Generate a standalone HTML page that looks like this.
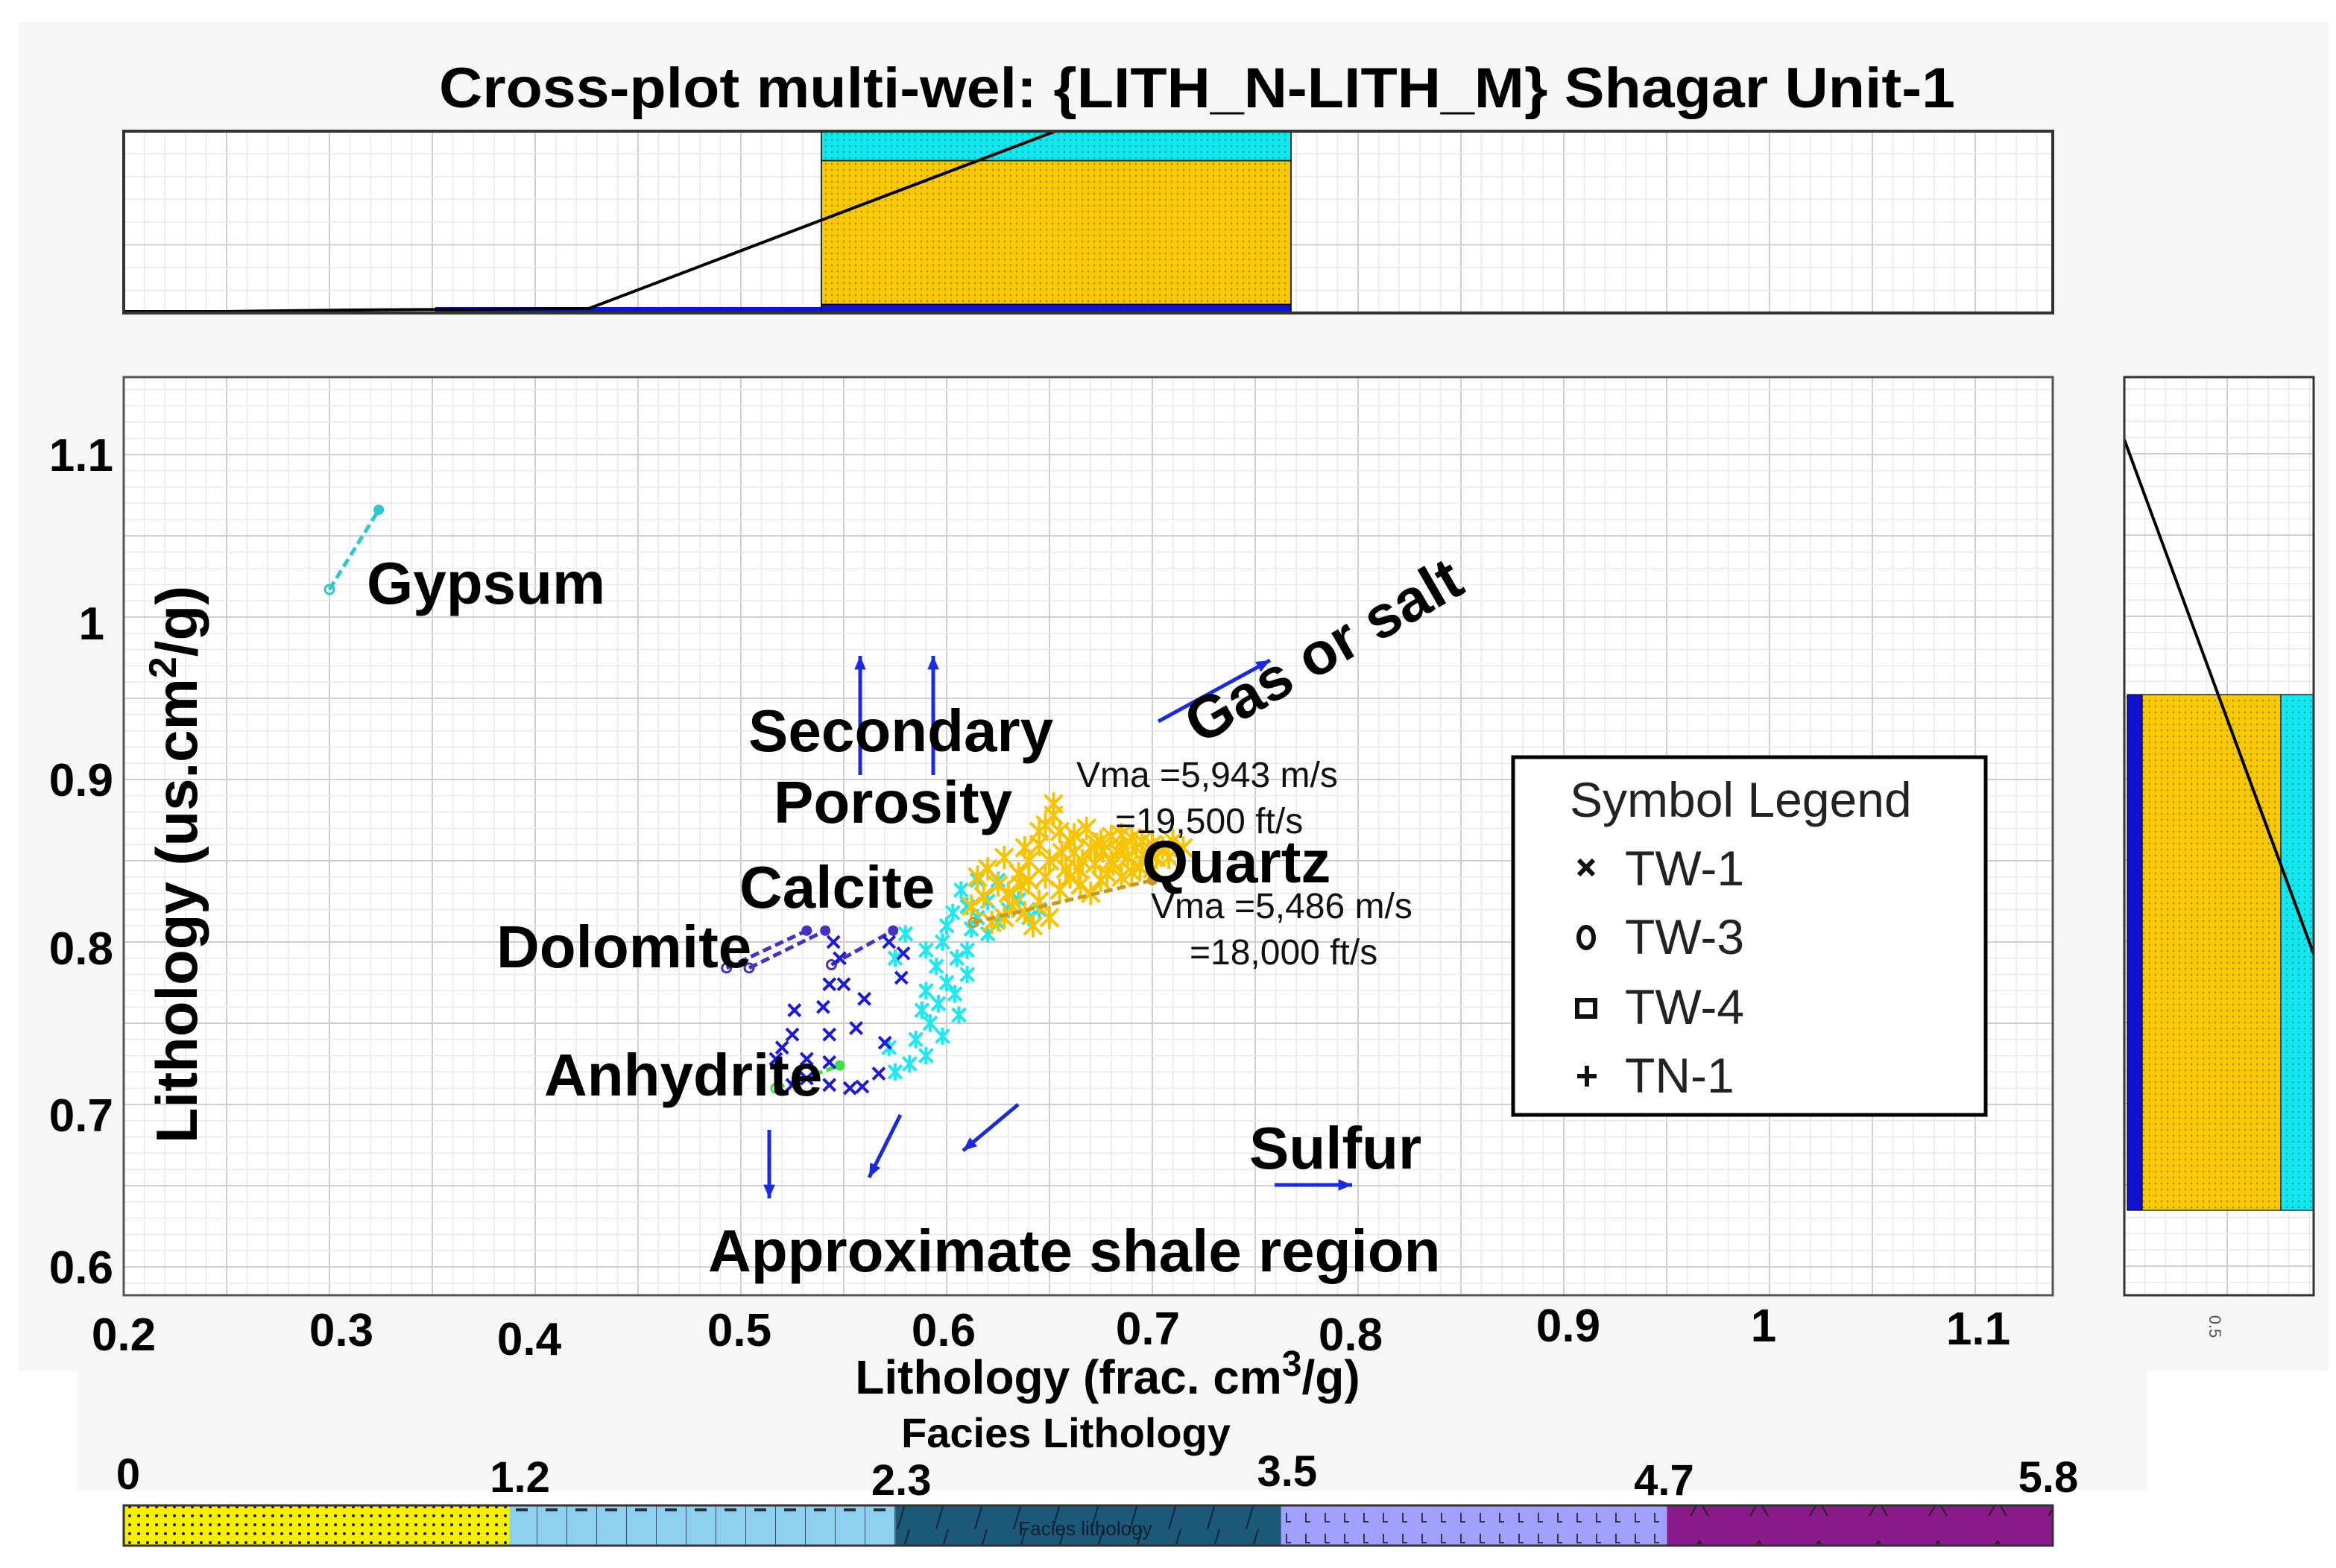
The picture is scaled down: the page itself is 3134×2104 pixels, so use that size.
<!DOCTYPE html>
<html><head><meta charset="utf-8"><title>Cross-plot multi-wel</title>
<style>html,body{margin:0;padding:0;background:#fff}svg{display:block}text{font-family:"Liberation Sans",Arial,sans-serif}</style></head>
<body>
<svg id="chart" width="3134" height="2104" viewBox="0 0 1567 1052" xmlns="http://www.w3.org/2000/svg">
<defs>
<pattern id="dots" width="4" height="4" patternUnits="userSpaceOnUse"><circle cx="2" cy="2" r="0.6" fill="#333" opacity="0.5"/></pattern>
<pattern id="ydots" width="6" height="6" patternUnits="userSpaceOnUse"><rect width="6" height="6" fill="#f5f000"/><circle cx="3" cy="3" r="1" fill="#222"/></pattern>
<pattern id="dash" width="20" height="27" patternUnits="userSpaceOnUse"><rect width="20" height="27" fill="#8fd0f0"/><line x1="0" y1="0" x2="0" y2="27" stroke="#234" stroke-width="0.8"/><line x1="6" y1="14" x2="14" y2="14" stroke="#234" stroke-width="2"/></pattern>
<pattern id="slash" width="26" height="27" patternUnits="userSpaceOnUse"><rect width="26" height="27" fill="#1c5878"/><line x1="4" y1="27" x2="12" y2="0" stroke="#0a2838" stroke-width="1"/></pattern>
<pattern id="ell" width="13" height="27" patternUnits="userSpaceOnUse"><rect width="13" height="27" fill="#a0a0ff"/><path d="M5 3v6h3M5 16v6h3" stroke="#334" fill="none" stroke-width="1"/></pattern>
<pattern id="caret" width="40" height="27" patternUnits="userSpaceOnUse"><rect width="40" height="27" fill="#8a1a8a"/><path d="M14 18l6-10 6 10" stroke="#222" fill="none" stroke-width="1"/></pattern>
</defs>
<rect width="1567" height="1052" fill="#fff"/>
<rect x="12" y="15" width="1550" height="905" fill="#f6f6f6"/>
<rect x="52" y="918" width="1388" height="82" fill="#f6f6f6"/>
<text x="803" y="72" font-size="38" font-weight="bold" text-anchor="middle" textLength="1017" lengthAdjust="spacingAndGlyphs">Cross-plot multi-wel: {LITH_N-LITH_M} Shagar Unit-1</text>

<g id="tophist"></g>
<g id="righthist"></g>
<g id="main"></g>

<g>
<rect x="1015" y="508" width="317" height="240" fill="#fff" stroke="#000" stroke-width="2.5"/>
<text x="1053" y="548" font-size="33" fill="#222">Symbol Legend</text>
<g><path d="M1059 577l10 10M1069 577l-10 10" stroke="#111" stroke-width="3"/><text x="1090" y="594" font-size="33" fill="#222">TW-1</text></g>
<g><ellipse cx="1064" cy="629" rx="5" ry="7" fill="none" stroke="#111" stroke-width="3"/><text x="1090" y="640" font-size="33" fill="#222">TW-3</text></g>
<g><rect x="1058" y="671" width="12" height="11" fill="none" stroke="#111" stroke-width="3"/><text x="1090" y="687" font-size="33" fill="#222">TW-4</text></g>
<g><path d="M1058 722h13M1064.5 715v14" stroke="#111" stroke-width="3"/><text x="1090" y="733" font-size="33" fill="#222">TN-1</text></g>
</g>

<g font-weight="bold" font-size="40" fill="#000">
<text x="246" y="405">Gypsum</text>
<text x="502" y="504">Secondary</text>
<text x="519" y="552">Porosity</text>
<text x="496" y="609">Calcite</text>
<text x="333" y="649">Dolomite</text>
<text x="365" y="735">Anhydrite</text>
<text x="766" y="592">Quartz</text>
<text x="838" y="784">Sulfur</text>
<text x="475" y="853">Approximate shale region</text>
<text x="0" y="0" transform="translate(805,500) rotate(-30)">Gas or salt</text>
</g>
<g font-size="24" fill="#111">
<text x="722" y="528">Vma =5,943 m/s</text>
<text x="748" y="559">=19,500 ft/s</text>
<text x="772" y="616">Vma =5,486 m/s</text>
<text x="798" y="647">=18,000 ft/s</text>
</g>

<g font-size="31" font-weight="bold" text-anchor="middle">
<text x="83" y="906">0.2</text><text x="229" y="903">0.3</text><text x="355" y="909">0.4</text><text x="496" y="903">0.5</text><text x="633" y="903">0.6</text><text x="770" y="902">0.7</text><text x="906" y="906">0.8</text><text x="1052" y="900">0.9</text><text x="1183" y="900">1</text><text x="1327" y="902">1.1</text>
</g>
<text x="743" y="935" font-size="32" font-weight="bold" text-anchor="middle">Lithology (frac. cm<tspan dy="-12" font-size="24">3</tspan><tspan dy="12">/g)</tspan></text>
<g font-size="31" font-weight="bold" text-anchor="end">
<text x="76" y="316">1.1</text><text x="70" y="429">1</text><text x="76" y="534">0.9</text><text x="76" y="647">0.8</text><text x="76" y="759">0.7</text><text x="76" y="861">0.6</text>
</g>
<text transform="translate(132,580) rotate(-90)" font-size="39" font-weight="bold" text-anchor="middle">Lithology (us.cm<tspan dy="-14" font-size="26">2</tspan><tspan dy="14">/g)</tspan></text>
<text transform="translate(1482,890) rotate(90)" font-size="11" fill="#555" text-anchor="middle">0.5</text>

<g id="facies">
<text x="715" y="971" font-size="28" font-weight="bold" text-anchor="middle">Facies Lithology</text>
</g>
</svg>
<script>
const NS="http://www.w3.org/2000/svg";
// ---- data ----
const xTicks=[0.2,0.3,0.4,0.5,0.6,0.7,0.8,0.9,1.0,1.1];
const tw1X=[0.526,0.543,0.55,0.543,0.525,0.517,0.532,0.543,0.570,0.525,0.543,0.532,0.553,0.559,0.567,0.556,0.579,0.578,0.545,0.572,0.520,0.540,0.560,0.548];
const tw1Y=[0.758,0.774,0.774,0.743,0.743,0.728,0.728,0.726,0.738,0.712,0.712,0.716,0.710,0.711,0.719,0.747,0.793,0.778,0.800,0.800,0.735,0.760,0.765,0.790];
const cyanX=[0.575,0.582,0.59,0.585,0.592,0.588,0.596,0.59,0.6,0.595,0.605,0.598,0.61,0.6,0.612,0.62,0.615,0.625,0.63,0.62,0.61,0.603,0.607,0.615,0.62,0.625,0.63,0.635,0.64,0.645,0.61,0.604,0.598,0.606,0.572,0.58,0.59,0.575];
const cyanY=[0.72,0.725,0.73,0.74,0.75,0.758,0.762,0.77,0.775,0.785,0.79,0.8,0.795,0.81,0.808,0.805,0.815,0.812,0.82,0.825,0.822,0.818,0.832,0.838,0.845,0.838,0.83,0.826,0.815,0.82,0.78,0.768,0.742,0.755,0.735,0.805,0.795,0.79];
const yelX=[0.612,0.618,0.625,0.63,0.635,0.64,0.645,0.648,0.652,0.655,0.66,0.662,0.666,0.67,0.675,0.68,0.685,0.69,0.695,0.70,0.705,0.672,0.68,0.688,0.695,0.66,0.665,0.67,0.675,0.655,0.645,0.638,0.65,0.642,0.658,0.65,0.632,0.628,0.622,0.64,0.685,0.69,0.70,0.678,0.645,0.638,0.628,0.62,0.615,0.652,0.668,0.683,0.71,0.715,0.708,0.698,0.692,0.676,0.664,0.656,0.648,0.636,0.662,0.673,0.686,0.702,0.694,0.681];
const yelY=[0.822,0.828,0.835,0.83,0.842,0.85,0.86,0.872,0.878,0.868,0.862,0.855,0.85,0.858,0.862,0.865,0.866,0.864,0.862,0.86,0.858,0.848,0.85,0.852,0.85,0.84,0.835,0.83,0.838,0.832,0.825,0.818,0.815,0.81,0.845,0.85,0.822,0.815,0.812,0.838,0.84,0.843,0.845,0.842,0.868,0.858,0.852,0.845,0.84,0.885,0.87,0.856,0.862,0.858,0.852,0.855,0.858,0.856,0.845,0.855,0.84,0.835,0.866,0.86,0.858,0.852,0.846,0.848];
// mineral line segments [x1,y1,x2,y2]
const gypsumSeg=[0.300,1.017,0.324,1.066];
const dolomiteSegA=[0.493,0.784,0.532,0.807];
const dolomiteSegB=[0.504,0.784,0.541,0.807];
const calciteSeg=[0.544,0.786,0.574,0.807];
const anhydriteSeg=[0.517,0.710,0.548,0.724];
const quartzSeg=[0.613,0.812,0.700,0.838];
const topHistCats=["blue","yellow","cyan"];
const topHistVals=[0.05,0.83,0.17];
const faciesTicks=["0","1.2","2.3","3.5","4.7","5.8"];
// ---- scales ----
const X0=83,X1=1377,Y0=253,Y1=869;
const sx=v=>83+(v-0.2)*1380;
const sy=v=>305+(1.1-v)*1090;
function el(tag,attrs,parent){const e=document.createElementNS(NS,tag);for(const k in attrs)e.setAttribute(k,attrs[k]);parent.appendChild(e);return e;}
function grid(g,x0,y0,x1,y1,dx,dy,ox,oy){
 for(let i=0;;i++){const x=ox+i*dx;if(x>x1)break;if(x<x0)continue;el('line',{x1:x,y1:y0,x2:x,y2:y1,stroke:i%5==0?'#cfcfcf':'#e8e8e8','stroke-width':i%5==0?1:0.7},g);}
 for(let i=0;;i++){const y=oy+i*dy;if(y>y1)break;if(y<y0)continue;el('line',{x1:x0,y1:y,x2:x1,y2:y,stroke:i%5==0?'#cfcfcf':'#e8e8e8','stroke-width':i%5==0?1:0.7},g);}
}
const main=document.getElementById('main');
el('rect',{x:X0,y:Y0,width:X1-X0,height:Y1-Y0,fill:'#fff'},main);
grid(main,X0,Y0,X1,Y1,13.8,10.9,X0,305-54.5);
el('rect',{x:X0,y:Y0,width:X1-X0,height:Y1-Y0,fill:'none',stroke:'#555','stroke-width':1.5},main);
function seg(s,color,name){
 const l=el('line',{x1:sx(s[0]),y1:sy(s[1]),x2:sx(s[2]),y2:sy(s[3]),stroke:color,'stroke-width':2.5,'stroke-dasharray':'6 3'},main);
 
 
 el('circle',{cx:sx(s[0]),cy:sy(s[1]),r:3,fill:'none',stroke:color,'stroke-width':1.5},main);
 el('circle',{cx:sx(s[2]),cy:sy(s[3]),r:3.5,fill:color},main);
}
seg(gypsumSeg,'#30c8d0','gypsum-line');
seg(dolomiteSegA,'#4a30c0','dolomite-line-a');
seg(dolomiteSegB,'#4a30c0','dolomite-line-b');
seg(calciteSeg,'#4a30c0','calcite-line');
seg(anhydriteSeg,'#40e040','anhydrite-line');
function xmark(x,y,color,s,star,name){
 const g=el('g',{},main);
 
 
 el('path',{d:`M${x-s} ${y-s}L${x+s} ${y+s}M${x+s} ${y-s}L${x-s} ${y+s}`+(star?`M${x} ${y-s*1.3}V${y+s*1.3}`:''),stroke:color,'stroke-width':2},g);
}
cyanX.forEach((v,i)=>xmark(sx(v),sy(cyanY[i]),'#1ee8f0',4.5,true,'point-tw1-cyan'));
tw1X.forEach((v,i)=>xmark(sx(v),sy(tw1Y[i]),'#1a1ad8',4,false,'point-tw1-blue'));
yelX.forEach((v,i)=>xmark(sx(v),sy(yelY[i]),'#f8c400',6,true,'point-quartz-yellow'));
seg(quartzSeg,'#c89a20','quartz-line');
function arrow(x1,y1,x2,y2,name){
 const a=Math.atan2(y2-y1,x2-x1),h=10;
 const g=el('g',{},main);
 
 
 el('line',{x1,y1,x2,y2,stroke:'#1a2ae0','stroke-width':2.5},g);
 el('path',{d:`M${x2} ${y2}L${x2-h*Math.cos(a-0.4)} ${y2-h*Math.sin(a-0.4)}L${x2-h*Math.cos(a+0.4)} ${y2-h*Math.sin(a+0.4)}Z`,fill:'#1a2ae0'},g);
}
arrow(577,520,577,440,'arrow-secondary-1');
arrow(626,520,626,440,'arrow-secondary-2');
arrow(777,484,852,443,'arrow-gas');
arrow(516,758,516,804,'arrow-shale-1');
arrow(604,748,583,790,'arrow-shale-2');
arrow(683,741,646,772,'arrow-shale-3');
arrow(855,795,907,795,'arrow-sulfur');
// top histogram
const th=document.getElementById('tophist');
el('rect',{x:X0,y:88,width:X1-X0,height:122,fill:'#fff'},th);
grid(th,X0,88,X1,210,13.8,15.25,X0,88);
const cols={blue:'#1010d8',yellow:'#f8c800',cyan:'#10e8f0'};
let yy=210;
topHistCats.forEach((c,i)=>{const h=topHistVals[i]*(122/1.05);yy-=h;const r=el('rect',{x:551,y:yy,width:315,height:h,fill:cols[c],stroke:'#000','stroke-width':0.8},th);
 
 
 el('rect',{x:551,y:yy,width:315,height:h,fill:'url(#dots)'},th);});
el('rect',{x:292,y:206,width:259,height:4,fill:'#1010d8'},th);
el('polyline',{points:'83,209 150,209 235,208 395,207 708,88',fill:'none',stroke:'#000','stroke-width':2},th);
el('rect',{x:X0,y:88,width:X1-X0,height:122,fill:'none',stroke:'#333','stroke-width':2},th);
// right histogram
const rh=document.getElementById('righthist');
el('rect',{x:1425,y:253,width:127,height:616,fill:'#fff'},rh);
grid(rh,1425,253,1552,869,13.8,10.9,1425,250);
const rb=[[1427,10,'#1010d8'],[1437,93,'#f8c800'],[1530,22,'#10e8f0']];
rb.forEach(b=>{el('rect',{x:b[0],y:466,width:b[1],height:346,fill:b[2],stroke:'#000','stroke-width':0.6},rh);el('rect',{x:b[0],y:466,width:b[1],height:346,fill:'url(#dots)'},rh);});
el('line',{x1:1425,y1:295,x2:1552,y2:640,stroke:'#000','stroke-width':2},rh);
el('rect',{x:1425,y:253,width:127,height:616,fill:'none',stroke:'#333','stroke-width':1.5},rh);
// facies bar (equal-width classes)
const fc=document.getElementById('facies');
const fx=i=>83+i*1294/5;
const fills=['url(#ydots)','url(#dash)','url(#slash)','url(#ell)','url(#caret)'];
for(let i=0;i<5;i++){const r=el('rect',{x:fx(i),y:1010,width:fx(i+1)-fx(i),height:27,fill:fills[i]},fc);
 
 }
el('rect',{x:83,y:1010,width:1294,height:27,fill:'none',stroke:'#333','stroke-width':1.5},fc);
const ft=el('text',{x:728,y:1030,'font-size':13,fill:'#0a2030','text-anchor':'middle'},fc);ft.textContent='Facies lithology';
const fyo=[999,1001,1003,997,1003,1001];
const fdx=[3,7,4,4,-2,-3];
faciesTicks.forEach((t,i)=>{const tx=el('text',{x:fx(i)+fdx[i],y:fyo[i],'font-size':29,'font-weight':'bold','text-anchor':'middle'},fc);tx.textContent=t;
 
 });
</script>
</body></html>
